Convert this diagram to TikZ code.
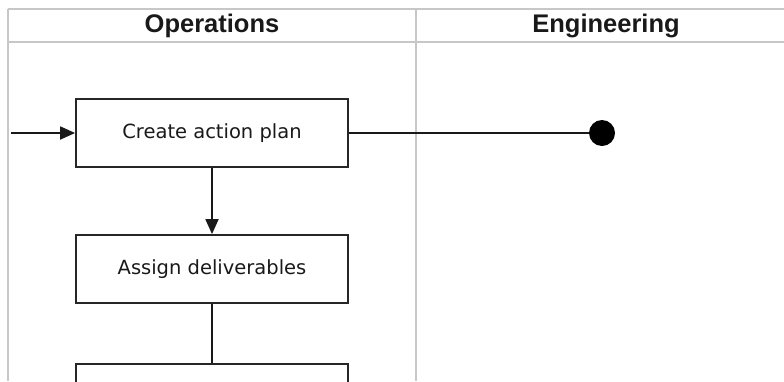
\documentclass[tikz,border=0pt]{standalone}
\usepackage{fontspec}
\setmainfont{Liberation Sans}
\newfontfamily\boxfont{DejaVu Sans}
\usetikzlibrary{arrows.meta}
\tikzset{
  lane/.style={draw=black!22, line width=2pt},
  actbox/.style={draw=black!85, line width=1.8pt, minimum width=272pt, minimum height=68pt, inner sep=0pt, font=\boxfont\fontsize{19.5}{22}\selectfont, text=black!90},
  hdr/.style={font=\bfseries\fontsize{25.5}{28}\selectfont, text=black!90, inner sep=0pt},
  flow/.style={line width=1.8pt, draw=black!90},
  tip/.style={-{Triangle[length=15pt,width=13pt]}}
}
\begin{document}
\begin{tikzpicture}[x=1pt,y=-1pt]
\useasboundingbox (0,0) rectangle (784,381);
\clip (0,0) rectangle (784,381);
% swimlane frame
\draw[lane] (8,9) -- (784,9);
\draw[lane] (8,42) -- (784,42);
\draw[lane] (8,9) -- (8,381);
\draw[lane] (416,9) -- (416,381);
\node[hdr] (hOps) at (212,26) {Operations};
\node[hdr] (hEng) at (606,26) {Engineering};
% activities
\node[actbox] (b1) at (212,133) {Create action plan};
\node[actbox] (b2) at (212,269) {Assign deliverables};
\node[actbox] (b3) at (212,398) {};
\coordinate (in) at (11,133);
\node[circle, fill=black, minimum size=26pt, inner sep=0pt] (end) at (602,133) {};
% connectors
\draw[flow,tip] (in) -- (b1.west);
\draw[flow,tip] (b1.south) -- (b2.north);
\draw[flow] (b2.south) -- (b3.north);
\draw[flow] (b1.east) -- (end.west);
\end{tikzpicture}
\end{document}
